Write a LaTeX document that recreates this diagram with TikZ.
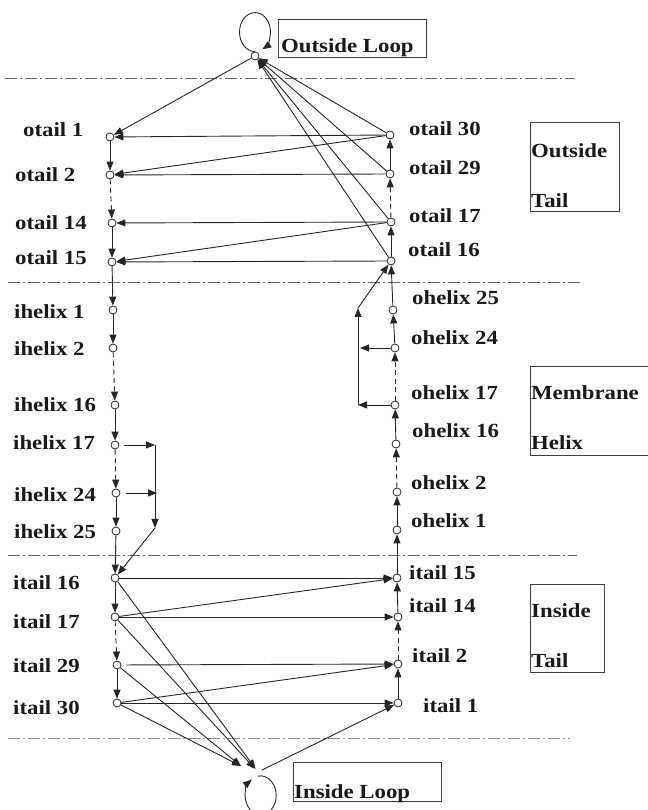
\documentclass[tikz,border=0pt]{standalone}
\usepackage{fontspec}
\setmainfont{Liberation Serif}[FakeStretch=1.14]
\usetikzlibrary{arrows.meta}
\begin{document}
\begin{tikzpicture}[x=1pt,y=1pt,
  pt/.style={circle,draw=black!85,fill=white,line width=0.8pt,minimum size=8pt,inner sep=0pt},
  ghost/.style={circle,minimum size=8pt,inner sep=0pt},
  lbl/.style={anchor=base west,inner sep=0pt,font=\bfseries\fontsize{20}{22}\selectfont,text=black!90},
  arr/.style={draw=black!85,line width=0.9pt,-{Triangle[length=9pt,width=7pt]}},
  darr/.style={arr,dash pattern=on 5pt off 3.5pt},
  sep/.style={draw=black!60,line width=0.8pt,dash pattern=on 12pt off 3pt on 2pt off 3pt},
  box/.style={draw=black!75,line width=0.8pt,anchor=south west,inner sep=0pt}]
\useasboundingbox (0,0) rectangle (647,810);

% separators
\coordinate (s1a) at (5,732);  \coordinate (s1b) at (575,732);
\coordinate (s2a) at (8,528);  \coordinate (s2b) at (580,528);
\coordinate (s3a) at (8,255);  \coordinate (s3b) at (577,255);
\coordinate (s4a) at (8,72);   \coordinate (s4b) at (570,72);
\draw[sep] (s1a) -- (s1b);
\draw[sep] (s2a) -- (s2b);
\draw[sep] (s3a) -- (s3b);
\draw[sep,draw=black!45] (s4a) -- (s4b);

% boxes
\node[box,minimum width=148pt,minimum height=38pt] (bOL) at (278,752) {};
\node[box,minimum width=89pt,minimum height=89pt] (bOT) at (530,598) {};
\node[box,minimum width=120pt,minimum height=89pt] (bMH) at (530,354) {};
\node[box,minimum width=74pt,minimum height=88pt] (bIT) at (530,137) {};
\node[box,minimum width=148pt,minimum height=39pt] (bIL) at (293,8) {};
\node[lbl] (tOL) at (281,757) {Outside Loop};
\node[lbl] (tOT1) at (531,652) {Outside};
\node[lbl] (tOT2) at (531,602) {Tail};
\node[lbl] (tMH1) at (531,410) {Membrane};
\node[lbl] (tMH2) at (531,360) {Helix};
\node[lbl] (tIT1) at (531,192) {Inside};
\node[lbl] (tIT2) at (531,142) {Tail};
\node[lbl] (tIL) at (294,12) {Inside Loop};

% nodes
\node[pt] (OL) at (255,754) {};
\node[ghost] (IL) at (258,38) {};
\coordinate (ILa) at (241,44);

\node[pt] (ot1) at (110,673) {};
\node[pt] (ot2) at (110,635) {};
\node[pt] (ot14) at (112,587) {};
\node[pt] (ot15) at (112,548) {};
\node[pt] (ih1) at (113,500) {};
\node[pt] (ih2) at (113,462) {};
\node[pt] (ih16) at (115,405) {};
\node[pt] (ih17) at (115,365) {};
\node[pt] (ih24) at (116,317) {};
\node[pt] (ih25) at (116,279) {};
\node[pt] (it16) at (115,232) {};
\node[pt] (it17) at (115,193) {};
\node[pt] (it29) at (117,145) {};
\node[pt] (it30) at (117,107) {};

\node[pt] (ot30) at (390,675) {};
\node[pt] (ot29) at (390,636) {};
\node[pt] (ot17) at (391,588) {};
\node[pt] (ot16) at (391,549) {};
\node[pt] (oh25) at (393,500) {};
\node[pt] (oh24) at (395,462) {};
\node[pt] (oh17) at (395,405) {};
\node[pt] (oh16) at (396,366) {};
\node[pt] (oh2) at (397,318) {};
\node[pt] (oh1) at (397,280) {};
\node[pt] (it15) at (397,232) {};
\node[pt] (it14) at (398,193) {};
\node[pt] (it2) at (398,146) {};
\node[pt] (it1) at (398,107) {};

% labels left
\node[lbl] (l1) at (23,673) {otail 1};
\node[lbl] (l2) at (15,628) {otail 2};
\node[lbl] (l3) at (15,580) {otail 14};
\node[lbl] (l4) at (15,545) {otail 15};
\node[lbl] (l5) at (14,491) {ihelix 1};
\node[lbl] (l6) at (14,454) {ihelix 2};
\node[lbl] (l7) at (14,398) {ihelix 16};
\node[lbl] (l8) at (13,360) {ihelix 17};
\node[lbl] (l9) at (14,308) {ihelix 24};
\node[lbl] (l10) at (14,271) {ihelix 25};
\node[lbl] (l11) at (13,220) {itail 16};
\node[lbl] (l12) at (13,181) {itail 17};
\node[lbl] (l13) at (13,137) {itail 29};
\node[lbl] (l14) at (13,95) {itail 30};
% labels right
\node[lbl] (r1) at (409,674) {otail 30};
\node[lbl] (r2) at (409,635) {otail 29};
\node[lbl] (r3) at (409,587) {otail 17};
\node[lbl] (r4) at (408,553) {otail 16};
\node[lbl] (r5) at (412,505) {ohelix 25};
\node[lbl] (r6) at (411,465) {ohelix 24};
\node[lbl] (r7) at (411,410) {ohelix 17};
\node[lbl] (r8) at (412,372) {ohelix 16};
\node[lbl] (r9) at (411,320) {ohelix 2};
\node[lbl] (r10) at (411,282) {ohelix 1};
\node[lbl] (r11) at (409,230) {itail 15};
\node[lbl] (r12) at (409,197) {itail 14};
\node[lbl] (r13) at (412,147) {itail 2};
\node[lbl] (r14) at (423,97) {itail 1};

% self loops
\draw[arr] (OL.north) arc[start angle=270, end angle=-62, x radius=15.5pt, y radius=19.5pt];
\draw[arr] (IL.south) arc[start angle=100, end angle=-235, x radius=15.5pt, y radius=19.5pt];

% outside loop edges
\draw[arr] (OL) -- (ot1);
\draw[arr] (ot30) -- (OL);
\draw[arr] (ot29) -- (OL);
\draw[arr] (ot17) -- (OL);
\draw[arr] (ot16) -- (OL);

% outside tail cross edges
\draw[arr] (ot30) -- (ot1);
\draw[arr] (ot30) -- (ot2);
\draw[arr] (ot29) -- (ot2);
\draw[arr] (ot17) -- (ot14);
\draw[arr] (ot17) -- (ot15);
\draw[arr] (ot16) -- (ot15);

% left column
\draw[arr] (ot1) -- (ot2);
\draw[darr] (ot2) -- (ot14);
\draw[arr] (ot14) -- (ot15);
\draw[arr] (ot15) -- (ih1);
\draw[arr] (ih1) -- (ih2);
\draw[darr] (ih2) -- (ih16);
\draw[arr] (ih16) -- (ih17);
\draw[darr] (ih17) -- (ih24);
\draw[arr] (ih24) -- (ih25);
\draw[arr] (ih25) -- (it16);
\draw[arr] (it16) -- (it17);
\draw[darr] (it17) -- (it29);
\draw[arr] (it29) -- (it30);

% right column
\draw[arr] (it1) -- (it2);
\draw[darr] (it2) -- (it14);
\draw[arr] (it14) -- (it15);
\draw[arr] (it15) -- (oh1);
\draw[arr] (oh1) -- (oh2);
\draw[darr] (oh2) -- (oh16);
\draw[arr] (oh16) -- (oh17);
\draw[darr] (oh17) -- (oh24);
\draw[arr] (oh24) -- (oh25);
\draw[arr] (oh25) -- (ot16);
\draw[arr] (ot16) -- (ot17);
\draw[darr] (ot17) -- (ot29);
\draw[arr] (ot29) -- (ot30);

% inner helix shortcut
\coordinate (hA) at (155,365);
\coordinate (hB) at (157,317);
\coordinate (hC) at (155,282);
\draw[arr,shorten <=5pt] (ih17) -- (hA);
\draw[arr,shorten <=6pt] (ih24) -- (hB);
\draw[arr] (hA) -- (hC);
\draw[arr] (hC) -- (it16);

% outer helix shortcut
\coordinate (rA) at (358,405);
\coordinate (rB) at (360,462);
\coordinate (rC) at (358,502);
\draw[arr] (oh17) -- (rA);
\draw[arr] (oh24) -- (rB);
\draw[arr] (rA) -- (rC);
\draw[arr] (rC) -- (ot16);

% inside tail cross edges
\draw[arr] (it16) -- (it15);
\draw[arr] (it17) -- (it15);
\draw[arr] (it17) -- (it14);
\draw[arr,shorten <=5pt] (it29) -- (it2);
\draw[arr] (it30) -- (it2);
\draw[arr] (it30) -- (it1);

% inside loop edges
\draw[arr] (it16) -- (IL);
\draw[arr] (it17) -- (IL);
\draw[arr] (it29) -- (ILa);
\draw[arr] (it30) -- (ILa);
\draw[arr] (IL) -- (it1);
\end{tikzpicture}
\end{document}
